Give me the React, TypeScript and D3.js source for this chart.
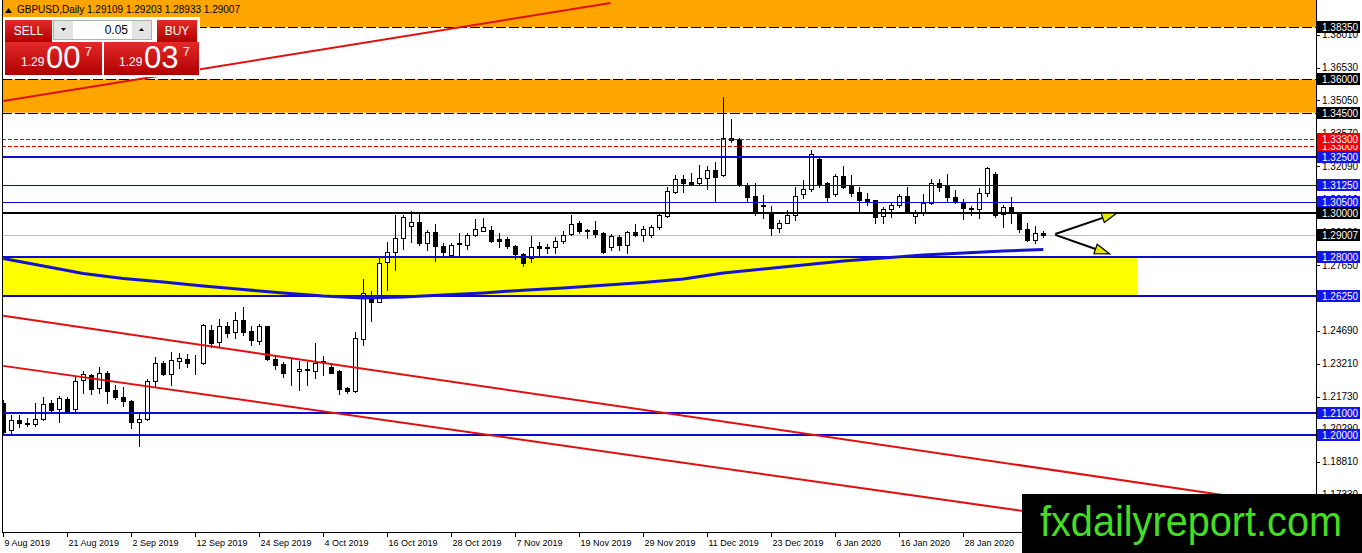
import React, { useEffect, useRef } from "react";
import * as d3 from "d3";

// daily bars, first bar = 9 Aug 2019
const opens = [
  1.2146, 1.2022, 1.207, 1.2057, 1.2052, 1.2073, 1.2145, 1.2118, 1.2164, 1.2118,
  1.2249, 1.227, 1.2212, 1.2282, 1.2204, 1.2172, 1.2155, 1.2058, 1.2073, 1.2245,
  1.2324, 1.2276, 1.2336, 1.2342, 1.2327, 1.2324, 1.2474, 1.2421, 1.2492, 1.2463,
  1.2519, 1.2469, 1.2426, 1.2489, 1.2342, 1.232, 1.2287, 1.2287, 1.2297, 1.2291,
  1.2336, 1.2309, 1.2291, 1.2212, 1.2197, 1.2432, 1.2623, 1.2601, 1.2778, 1.2823,
  1.2886, 1.2942, 1.2957, 1.2866, 1.2912, 1.2851, 1.2811, 1.2859, 1.2855, 1.2899,
  1.292, 1.2923, 1.2881, 1.2881, 1.2851, 1.2814, 1.2796, 1.2851, 1.2841, 1.2848,
  1.2875, 1.2903, 1.2956, 1.292, 1.2923, 1.2911, 1.2848, 1.2893, 1.2855, 1.2915,
  1.29, 1.29, 1.2935, 1.2986, 1.3095, 1.315, 1.3138, 1.3135, 1.3155, 1.3192,
  1.317, 1.3335, 1.333, 1.312, 1.3075, 1.3035, 1.2998, 1.293, 1.2956, 1.299,
  1.3084, 1.3106, 1.324, 1.3132, 1.3083, 1.3165, 1.312, 1.3092, 1.3062, 1.3057,
  1.2986, 1.3016, 1.3035, 1.3075, 1.2987, 1.2998, 1.3043, 1.3135, 1.312, 1.307,
  1.305, 1.3017, 1.3016, 1.3088, 1.3174, 1.2995, 1.3025, 1.2998, 1.2926, 1.2878,
  1.29109,
];
const highs = [
  1.216, 1.2092, 1.2092, 1.2079, 1.2146, 1.2173, 1.216, 1.2177, 1.217, 1.2261,
  1.2291, 1.2276, 1.2309, 1.2287, 1.2227, 1.2219, 1.216, 1.21, 1.2252, 1.2351,
  1.2336, 1.2376, 1.2372, 1.2365, 1.2362, 1.2501, 1.2496, 1.2522, 1.2507, 1.2556,
  1.2578, 1.2489, 1.2501, 1.2492, 1.2362, 1.2331, 1.2342, 1.2336, 1.2331, 1.2414,
  1.2357, 1.2324, 1.2294, 1.2217, 1.2466, 1.2701, 1.265, 1.2796, 1.287, 1.299,
  1.299, 1.3009, 1.2995, 1.2923, 1.295, 1.2863, 1.2866, 1.2908, 1.2911, 1.2971,
  1.2975, 1.2941, 1.2911, 1.2893, 1.2855, 1.2821, 1.2896, 1.287, 1.286, 1.2893,
  1.292, 1.299, 1.2965, 1.2926, 1.2965, 1.2915, 1.2905, 1.29, 1.292, 1.295,
  1.2941, 1.2945, 1.3005, 1.3117, 1.317, 1.317, 1.3177, 1.3215, 1.321, 1.3229,
  1.3519, 1.342, 1.3335, 1.3132, 1.3132, 1.308, 1.3031, 1.2968, 1.3013, 1.3114,
  1.3147, 1.3282, 1.3245, 1.314, 1.3174, 1.321, 1.317, 1.3117, 1.309, 1.3059,
  1.3027, 1.3043, 1.3084, 1.3114, 1.3013, 1.3084, 1.315, 1.315, 1.3174, 1.3102,
  1.3061, 1.3031, 1.311, 1.3204, 1.3185, 1.3035, 1.307, 1.3, 1.2956, 1.2941,
  1.29203,
];
const lows = [
  1.2007, 1.2011, 1.2037, 1.204, 1.2043, 1.207, 1.2107, 1.2058, 1.2107, 1.2107,
  1.219, 1.2186, 1.2192, 1.2147, 1.2164, 1.2133, 1.2032, 1.195, 1.207, 1.2217,
  1.2273, 1.2227, 1.2302, 1.2306, 1.2276, 1.2322, 1.2399, 1.2399, 1.2444, 1.2437,
  1.2451, 1.2406, 1.2411, 1.2339, 1.2297, 1.2264, 1.2227, 1.2204, 1.2227, 1.2257,
  1.2272, 1.2279, 1.2186, 1.2192, 1.2195, 1.2406, 1.2514, 1.2598, 1.2653, 1.2743,
  1.2836, 1.287, 1.2855, 1.2833, 1.2785, 1.2811, 1.2803, 1.2803, 1.2836, 1.2896,
  1.2919, 1.287, 1.2848, 1.2841, 1.2791, 1.2763, 1.278, 1.2811, 1.2818, 1.2821,
  1.2866, 1.29, 1.2908, 1.2886, 1.2893, 1.2818, 1.2833, 1.2833, 1.2821, 1.2896,
  1.2875, 1.2893, 1.2926, 1.298, 1.3088, 1.3095, 1.3125, 1.3129, 1.3106, 1.305,
  1.3165, 1.3319, 1.312, 1.3054, 1.299, 1.2977, 1.29, 1.2915, 1.2953, 1.2968,
  1.3065, 1.31, 1.3114, 1.305, 1.3074, 1.311, 1.3075, 1.3009, 1.3035, 1.2956,
  1.2953, 1.2982, 1.3025, 1.2998, 1.2956, 1.299, 1.304, 1.3099, 1.3054, 1.3043,
  1.2971, 1.299, 1.2975, 1.3075, 1.2982, 1.2938, 1.2953, 1.2915, 1.2875, 1.2866,
  1.28933,
];
const closes = [
  1.2016, 1.207, 1.2055, 1.2052, 1.2073, 1.2142, 1.2115, 1.2167, 1.2111, 1.2246,
  1.2276, 1.2208, 1.2282, 1.2197, 1.217, 1.2152, 1.2058, 1.2074, 1.2245, 1.2324,
  1.2276, 1.2339, 1.2347, 1.2324, 1.2323, 1.2496, 1.2417, 1.2492, 1.2462, 1.2516,
  1.2466, 1.2429, 1.2489, 1.2342, 1.2317, 1.2282, 1.229, 1.2299, 1.2294, 1.2327,
  1.233, 1.2282, 1.2208, 1.2197, 1.2437, 1.2641, 1.2601, 1.2776, 1.2823, 1.2886,
  1.298, 1.2957, 1.2863, 1.2912, 1.2851, 1.2823, 1.2855, 1.2863, 1.29, 1.2926,
  1.2935, 1.2875, 1.2875, 1.2852, 1.2814, 1.2773, 1.2848, 1.2841, 1.2848, 1.2875,
  1.29, 1.295, 1.292, 1.2923, 1.2903, 1.2825, 1.2896, 1.2855, 1.2915, 1.29,
  1.2926, 1.2938, 1.299, 1.3098, 1.315, 1.3132, 1.3129, 1.3155, 1.3192, 1.3162,
  1.3335, 1.3327, 1.3125, 1.3072, 1.3, 1.3031, 1.293, 1.2956, 1.299, 1.3077,
  1.3106, 1.3264, 1.3129, 1.3072, 1.3165, 1.3117, 1.309, 1.3057, 1.3054, 1.2982,
  1.3016, 1.3035, 1.3075, 1.3, 1.2998, 1.3043, 1.3135, 1.3117, 1.307, 1.305,
  1.302, 1.3023, 1.3088, 1.32, 1.299, 1.3025, 1.3, 1.2926, 1.2878, 1.2908,
  1.29007,
];

// moving average
const maBars = [0, 5, 10, 15, 20, 25, 30, 35, 40, 45, 50, 55, 60, 65, 70, 75, 80, 85, 90, 95, 100, 105, 110, 115, 120, 125, 130];
const maValues = [
  1.2795, 1.2761, 1.2727, 1.2705, 1.2689, 1.2671, 1.2655, 1.264, 1.2626, 1.2617,
  1.2622, 1.2631, 1.264, 1.2652, 1.2662, 1.2674, 1.2687, 1.2702, 1.2729, 1.2747,
  1.2765, 1.2783, 1.2797, 1.281, 1.2819, 1.2828, 1.2835,
];

// time axis labels, one every 8 bars
const dateLabels = [
  "9 Aug 2019", "21 Aug 2019", "2 Sep 2019", "12 Sep 2019", "24 Sep 2019", "4 Oct 2019",
  "16 Oct 2019", "28 Oct 2019", "7 Nov 2019", "19 Nov 2019", "29 Nov 2019", "11 Dec 2019",
  "23 Dec 2019", "6 Jan 2020", "16 Jan 2020", "28 Jan 2020",
];

const priceTicks = [
  1.3801, 1.3653, 1.3505, 1.3357, 1.3209, 1.3061, 1.2913, 1.2765, 1.2617, 1.2469,
  1.2321, 1.2173, 1.2029, 1.1881, 1.1733,
];

// drawn levels
const blackLevels = [1.3835, 1.36, 1.345];
const redLevels = [1.33, 1.333];
const blueThick = [1.325, 1.28, 1.2625, 1.21, 1.2];
const blueThin = [1.3125, 1.305];
const roundLevel = 1.3;
const bidPrice = 1.29007;

// zones: [low, high, lastBar]
const orangeZones = [
  [1.3835, 1.42, 170],
  [1.345, 1.36, 170],
];
const yellowZone = [1.2625, 1.28, 141.8];

// trend lines: [bar1, price1, bar2, price2]
const trendLines = [
  [0, 1.3502, 75.9, 1.3943],
  [0, 1.2537, 164.1, 1.167],
  [0, 1.2312, 164.1, 1.1472],
];
const arrows = [
  [131.5, 1.2905, 139.2, 1.2999],
  [131.5, 1.2901, 138.3, 1.2815],
];

const W = 1362;
const H = 553;
const left = 2;
const right = 1316;
const bottom = 532;
const FONT = "'Liberation Sans', Arial, sans-serif";

export default function App() {
  const ref = useRef<SVGSVGElement>(null);

  useEffect(() => {
    const svg = d3.select(ref.current);
    svg.selectAll("*").remove();

    var x = d3.scaleLinear().domain([0, 164]).range([3.3, 1315.3]);
    var y = d3.scaleLinear().domain([1.15654, 1.39564]).range([bottom, 0]);
    const px = (v: number) => Math.round(v) + 0.5;

    svg.append("rect").attr("width", W).attr("height", H).attr("fill", "#fff");

    svg
      .append("defs")
      .append("clipPath")
      .attr("id", "plotclip")
      .append("rect")
      .attr("x", left)
      .attr("y", 0)
      .attr("width", right - left)
      .attr("height", bottom);

    const plot = svg.append("g").attr("clip-path", "url(#plotclip)");

    // background zones
    plot
      .selectAll("rect.orange")
      .data(orangeZones)
      .enter()
      .append("rect")
      .attr("x", left)
      .attr("y", (d) => y(d[1]))
      .attr("width", (d) => x(d[2]) - left)
      .attr("height", (d) => y(d[0]) - y(d[1]))
      .attr("fill", "#ffa500");
    plot
      .append("rect")
      .attr("x", left)
      .attr("y", y(yellowZone[1]))
      .attr("width", x(yellowZone[2]) - left)
      .attr("height", y(yellowZone[0]) - y(yellowZone[1]))
      .attr("fill", "#ffff00");

    // bid line
    plot
      .append("line")
      .attr("x1", left)
      .attr("x2", right)
      .attr("y1", px(y(bidPrice)))
      .attr("y2", px(y(bidPrice)))
      .attr("stroke", "#c0c0c0");

    // candles
    const bars = d3.range(opens.length);
    const cg = plot.append("g");
    cg.selectAll("line")
      .data(bars)
      .enter()
      .append("line")
      .attr("x1", (i) => px(x(i)))
      .attr("x2", (i) => px(x(i)))
      .attr("y1", (i) => Math.round(y(highs[i])))
      .attr("y2", (i) => Math.round(y(lows[i])) + 1)
      .attr("stroke", "#000");
    cg.selectAll("rect")
      .data(bars)
      .enter()
      .append("rect")
      .attr("x", (i) => px(x(i)) - 2)
      .attr("width", 4)
      .attr("y", (i) => px(y(Math.max(opens[i], closes[i]))))
      .attr("height", (i) =>
        Math.max(0, Math.round(y(Math.min(opens[i], closes[i]))) - Math.round(y(Math.max(opens[i], closes[i]))))
      )
      .attr("fill", (i) => (closes[i] >= opens[i] ? "#fff" : "#000"))
      .attr("stroke", "#000");

    // horizontal levels
    const hline = (p: number, color: string, w: number, dash: string | null) =>
      plot
        .append("line")
        .attr("x1", left)
        .attr("x2", right)
        .attr("y1", w % 2 ? px(y(p)) : Math.round(y(p)))
        .attr("y2", w % 2 ? px(y(p)) : Math.round(y(p)))
        .attr("stroke", color)
        .attr("stroke-width", w)
        .attr("stroke-dasharray", dash);
    blackLevels.forEach((p) => hline(p, "#000", 1, "10,3"));
    redLevels.forEach((p) => hline(p, "#e00000", 1, "4,2"));
    blueThin.forEach((p) => hline(p, "#0a0ad0", 1, null));
    blueThick.forEach((p) => hline(p, "#0a0ad0", 2, null));
    hline(roundLevel, "#000", 2, null);

    // trend lines
    plot
      .selectAll("line.trend")
      .data(trendLines)
      .enter()
      .append("line")
      .attr("x1", (d) => x(d[0]))
      .attr("y1", (d) => y(d[1]))
      .attr("x2", (d) => x(d[2]))
      .attr("y2", (d) => y(d[3]))
      .attr("stroke", "#e01010")
      .attr("stroke-width", 2);

    // moving average
    const ma = d3
      .line<number>()
      .x((d, i) => x(maBars[i]))
      .y((d) => y(d));
    plot
      .append("path")
      .attr("d", ma(maValues))
      .attr("fill", "none")
      .attr("stroke", "#1414cc")
      .attr("stroke-width", 3);

    // arrows
    arrows.forEach((a) => {
      const x1 = x(a[0]),
        y1 = y(a[1]),
        x2 = x(a[2]),
        y2 = y(a[3]);
      const len = Math.hypot(x2 - x1, y2 - y1);
      const ux = (x2 - x1) / len,
        uy = (y2 - y1) / len;
      const bx = x2 - ux * 15,
        by = y2 - uy * 15;
      plot
        .append("line")
        .attr("x1", x1)
        .attr("y1", y1)
        .attr("x2", bx)
        .attr("y2", by)
        .attr("stroke", "#000")
        .attr("stroke-width", 2);
      plot
        .append("polygon")
        .attr(
          "points",
          [
            [x2, y2],
            [bx - uy * 5, by + ux * 5],
            [bx + uy * 5, by - ux * 5],
          ].join(" ")
        )
        .attr("fill", "#e8e800")
        .attr("stroke", "#000")
        .attr("stroke-width", 1.2);
    });

    // frame
    svg.append("line").attr("x1", 2.5).attr("x2", 2.5).attr("y1", 0).attr("y2", bottom).attr("stroke", "#000");
    svg.append("line").attr("x1", right + 0.5).attr("x2", right + 0.5).attr("y1", 0).attr("y2", bottom + 1).attr("stroke", "#000");
    svg.append("line").attr("x1", 2).attr("x2", right + 1).attr("y1", bottom + 0.5).attr("y2", bottom + 0.5).attr("stroke", "#000");

    // price axis
    const axis = svg.append("g").attr("font-family", FONT).attr("font-size", 10);
    priceTicks.forEach((p) => {
      axis.append("line").attr("x1", right).attr("x2", right + 4).attr("y1", px(y(p))).attr("y2", px(y(p))).attr("stroke", "#000");
      axis.append("text").attr("x", right + 6).attr("y", y(p) + 3.5).text(p.toFixed(5));
    });
    const tag = (p: number, color: string) => {
      axis.append("rect").attr("x", right + 1).attr("y", Math.round(y(p)) - 6).attr("width", 43).attr("height", 12).attr("fill", color);
      axis.append("text").attr("x", right + 6).attr("y", y(p) + 4).attr("fill", "#fff").text(p.toFixed(5));
    };
    blackLevels.forEach((p) => tag(p, "#000"));
    redLevels.forEach((p) => tag(p, "#f00000"));
    blueThick.concat(blueThin).forEach((p) => tag(p, "#1414ee"));
    tag(roundLevel, "#000");
    tag(bidPrice, "#000");

    // time axis
    const tax = svg.append("g").attr("font-family", FONT).attr("font-size", 9);
    dateLabels.forEach((label, k) => {
      const xx = px(x(k * 8));
      tax.append("line").attr("x1", xx).attr("x2", xx).attr("y1", bottom).attr("y2", bottom + 5).attr("stroke", "#000");
      tax.append("text").attr("x", xx + 1).attr("y", bottom + 14).text(label);
    });

    // header
    svg.append("path").attr("d", "M5,13 L8.5,8 L12,13 Z").attr("fill", "#000");
    svg
      .append("text")
      .attr("x", 17)
      .attr("y", 13)
      .attr("font-family", FONT)
      .attr("font-size", 10)
      .text("GBPUSD,Daily  1.29109 1.29203 1.28933 1.29007");

    // one-click trading panel
    const panel = svg.append("g").attr("font-family", FONT);
    const grad = svg.select("defs").append("linearGradient").attr("id", "redgrad").attr("x1", 0).attr("x2", 0).attr("y1", 0).attr("y2", 1);
    grad.append("stop").attr("offset", "0%").attr("stop-color", "#e42a2a");
    grad.append("stop").attr("offset", "100%").attr("stop-color", "#b00000");
    panel.append("rect").attr("x", 3).attr("y", 17).attr("width", 197).attr("height", 60).attr("fill", "#fff");
    panel.append("rect").attr("x", 5).attr("y", 20).attr("width", 47).attr("height", 22).attr("fill", "url(#redgrad)");
    panel.append("rect").attr("x", 157).attr("y", 20).attr("width", 40).attr("height", 22).attr("fill", "url(#redgrad)");
    panel.append("text").attr("x", 28.5).attr("y", 35).attr("text-anchor", "middle").attr("fill", "#fff").attr("font-size", 12).text("SELL");
    panel.append("text").attr("x", 177).attr("y", 35).attr("text-anchor", "middle").attr("fill", "#fff").attr("font-size", 12).text("BUY");
    panel.append("rect").attr("x", 53.5).attr("y", 20.5).attr("width", 98).attr("height", 19).attr("fill", "#fff").attr("stroke", "#b0b0b0");
    panel.append("rect").attr("x", 54).attr("y", 21).attr("width", 19).attr("height", 18).attr("fill", "#e4e4e4");
    panel.append("rect").attr("x", 132).attr("y", 21).attr("width", 19).attr("height", 18).attr("fill", "#e4e4e4");
    panel.append("path").attr("d", "M61,28 L66,28 L63.5,31 Z").attr("fill", "#000");
    panel.append("path").attr("d", "M139,31 L144,31 L141.5,28 Z").attr("fill", "#000");
    panel.append("text").attr("x", 128).attr("y", 34).attr("text-anchor", "end").attr("font-size", 12).text("0.05");
    panel.append("rect").attr("x", 5).attr("y", 42).attr("width", 97).attr("height", 33).attr("fill", "url(#redgrad)");
    panel.append("rect").attr("x", 104).attr("y", 42).attr("width", 95).attr("height", 33).attr("fill", "url(#redgrad)");
    const quote = (x0: number, big: string) => {
      panel.append("text").attr("x", x0).attr("y", 66).attr("fill", "#fff").attr("font-size", 12).text("1.29");
      panel.append("text").attr("x", x0 + 25).attr("y", 68).attr("fill", "#fff").attr("font-size", 31).text(big);
      panel.append("text").attr("x", x0 + 64).attr("y", 56).attr("fill", "#fff").attr("font-size", 12).text("7");
    };
    quote(21, "00");
    quote(119, "03");

    // watermark
    svg.append("rect").attr("x", 1022).attr("y", 494).attr("width", 340).attr("height", 59).attr("fill", "#000");
    svg
      .append("text")
      .attr("x", 1040)
      .attr("y", 536)
      .attr("font-family", "'Liberation Sans Narrow', " + FONT)
      .attr("font-size", 42)
      .attr("textLength", 302)
      .attr("lengthAdjust", "spacingAndGlyphs")
      .attr("fill", "#44dd22")
      .text("fxdailyreport.com");
  }, []);

  return (
    <>
      <style>{"body{margin:0}"}</style>
      <svg ref={ref} width={W} height={H} style={{ display: "block" }} />
    </>
  );
}
